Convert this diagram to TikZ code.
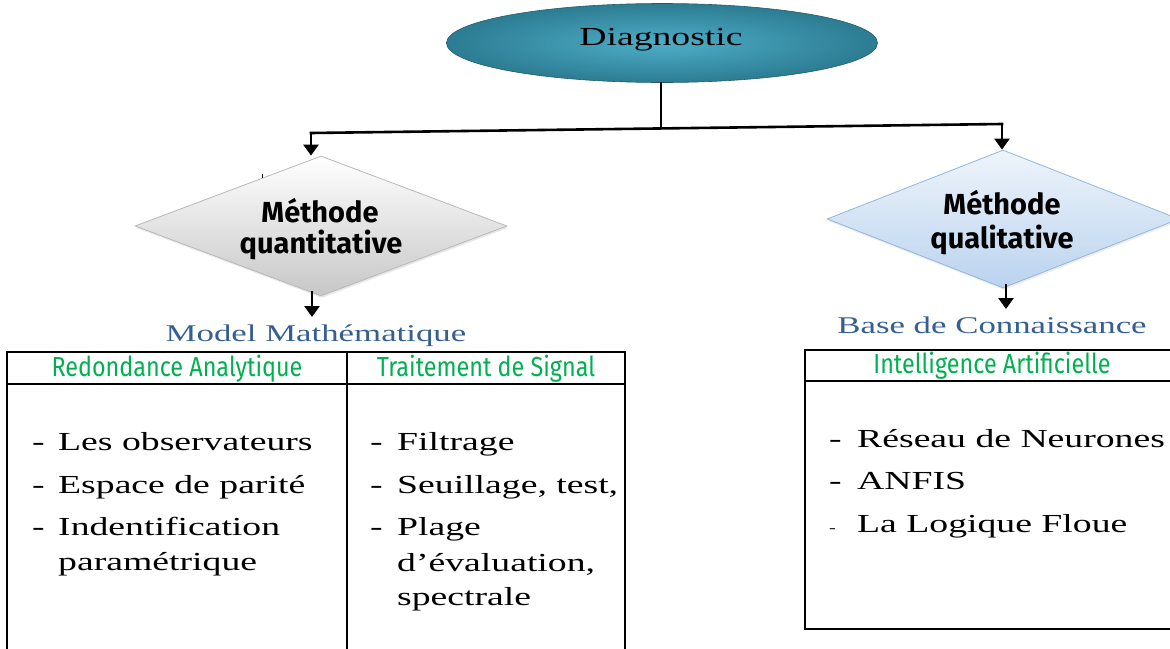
\documentclass[tikz,border=0pt]{standalone}
\usepackage{fontspec}
\usetikzlibrary{shapes.geometric,arrows.meta,shadows}
\newfontfamily\bodyfont[FakeStretch=1.45]{Liberation Serif}
\newfontfamily\headfont[FakeStretch=0.85]{Fira Sans}
\newfontfamily\diafont{Fira Sans}

\definecolor{tealout}{RGB}{44,124,146}
\definecolor{tealin}{RGB}{78,174,200}
\definecolor{titleblue}{RGB}{54,95,145}
\definecolor{headgreen}{RGB}{0,176,80}
\definecolor{bluetop}{RGB}{238,244,251}
\definecolor{bluebot}{RGB}{186,211,238}
\definecolor{blueedge}{RGB}{146,182,220}

\tikzset{
  conn/.style={line width=2.6pt, line cap=rect},
  arr/.style={line width=2.6pt, -{Triangle[width=15pt,length=11pt]}},
  decision/.style={diamond, inner sep=0pt, draw, line width=0.8pt},
  dlabel/.style={anchor=base, inner sep=0pt, font=\diafont\bfseries\fontsize{29}{31}\selectfont},
  heading/.style={anchor=base, inner sep=0pt, text=titleblue, font=\bodyfont\fontsize{24}{28}\selectfont},
  colhead/.style={anchor=base, inner sep=0pt, text=headgreen, font=\headfont\fontsize{27.5}{30}\selectfont},
  item/.style={anchor=base west, inner sep=0pt, font=\bodyfont\fontsize{26}{30}\selectfont},
  frame/.style={draw, line width=1.3pt}
}

\begin{document}
\begin{tikzpicture}[x=1pt,y=-1pt]
\useasboundingbox (0,0) rectangle (1170,648);
\clip (0,0) rectangle (1170,648);

% root ellipse
\node[ellipse, minimum width=431pt, minimum height=79pt, inner sep=0pt,
      shading=radial, inner color=tealin, outer color=tealout,
      draw=tealout!75!black, line width=0.6pt] (diag) at (662,43) {};
\node[anchor=base, inner sep=0pt, font=\bodyfont\fontsize{26}{30}\selectfont] (diagtxt) at (661,45) {Diagnostic};

% decision diamonds
\node[decision, minimum width=372pt, minimum height=140pt,
      top color=white, bottom color=black!22, draw=black!28,
      drop shadow={opacity=0.18, shadow xshift=1pt, shadow yshift=-2pt}] (quant) at (321,226) {};
\node[decision, minimum width=352pt, minimum height=138pt,
      top color=bluetop, bottom color=bluebot, draw=blueedge,
      drop shadow={opacity=0.15, shadow xshift=1pt, shadow yshift=-2pt}] (qual) at (1003,219) {};

\node[dlabel] (quant1) at (320,222) {Méthode};
\node[dlabel] (quant2) at (321,253) {quantitative};
\node[dlabel] (qual1) at (1002,214) {Méthode};
\node[dlabel] (qual2) at (1002,248) {qualitative};
\draw[line width=0.8pt] (262,174) -- (262,178);

% connectors from the root
\coordinate (split) at (661,128);
\coordinate (jl) at (311,133);
\coordinate (jr) at (1002,124);
\draw[conn] (diag.south -| split) -- (split);
\draw[conn] (jl) -- (jr);
\draw[arr] (jl) -- (jl |- quant.north);
\draw[arr] (jr) -- (jr |- qual.north);

% connectors below the diamonds
\coordinate (qb) at (312,291);
\coordinate (lb) at (1006,284);
\draw[arr] (qb) -- (312,317);
\draw[arr] (lb) -- (1006,309);

% branch titles
\node[heading] (mm) at (316,341) {Model Mathématique};
\node[heading] (bc) at (992,333) {Base de Connaissance};

% left table
\draw[frame] (7,352) rectangle (625,660);
\draw[frame] (7,384) -- (625,384);
\draw[frame] (347,352) -- (347,660);
\node[colhead] (ra) at (177,376) {Redondance Analytique};
\node[colhead] (ts) at (486,376) {Traitement de Signal};

\foreach \y/\t [count=\i] in {450/Les observateurs, 493/Espace de parité, 535/Indentification}{
  \node[item] (ld\i) at (32,\y) {-};
  \node[item] (lt\i) at (58,\y) {\t};
}
\node[item] (lt4) at (58,570) {paramétrique};

\foreach \y/\t [count=\i] in {450/Filtrage, 493/{Seuillage, test,}, 535/Plage}{
  \node[item] (rd\i) at (370,\y) {-};
  \node[item] (rt\i) at (397,\y) {\t};
}
\node[item] (rt4) at (397,571) {d’évaluation,};
\node[item] (rt5) at (397,605) {spectrale};

% right table
\draw[frame] (805,350) rectangle (1185,629);
\draw[frame] (805,381) -- (1185,381);
\node[colhead] (ia) at (992,373) {Intelligence Artificielle};

\node[item] (id1) at (829,447) {-};
\node[item] (it1) at (857,447) {Réseau de Neurones};
\node[item] (id2) at (829,489) {-};
\node[item] (it2) at (857,489) {ANFIS};
\node[item, font=\bodyfont\fontsize{14}{16}\selectfont] (id3) at (829,532) {-};
\node[item] (it3) at (857,532) {La Logique Floue};
\end{tikzpicture}
\end{document}
